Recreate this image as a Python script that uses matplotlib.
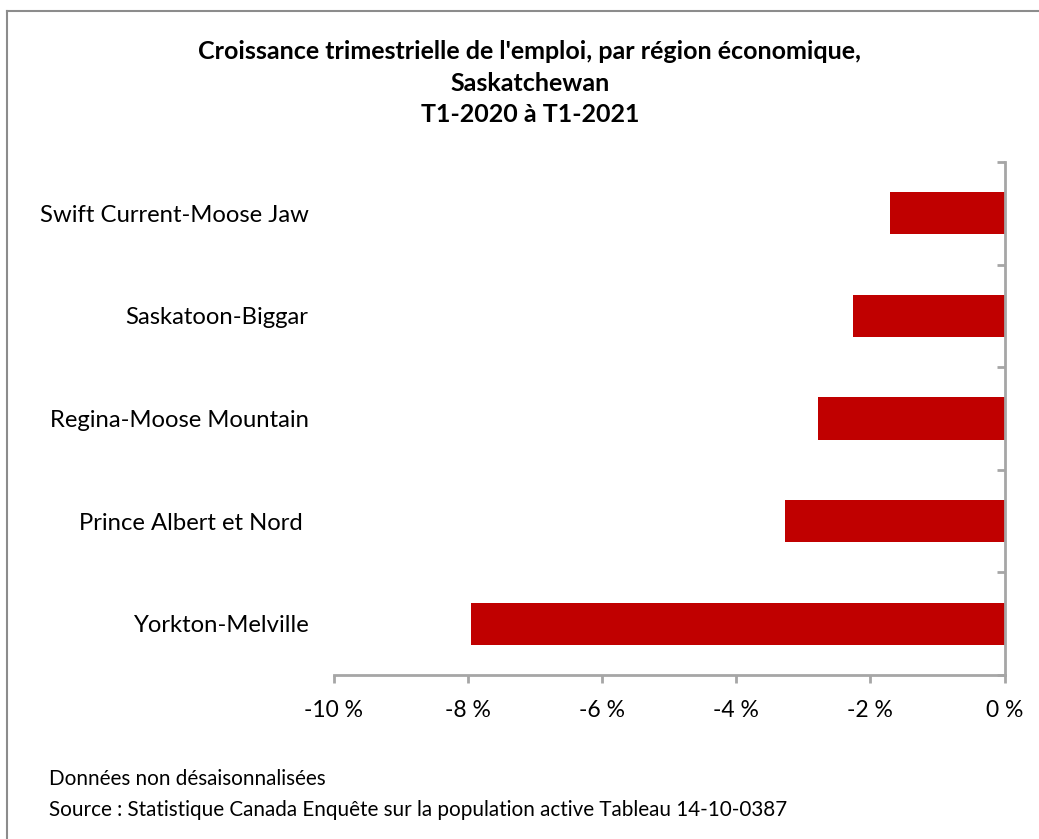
import numpy as np
import matplotlib.pyplot as plt
from matplotlib.lines import Line2D

# donnees
regions = ["Yorkton-Melville", "Prince Albert et Nord ", "Regina-Moose Mountain",
           "Saskatoon-Biggar", "Swift Current-Moose Jaw"]
croissance = [-7.95, -3.27, -2.78, -2.26, -1.71]
xticks = [-10, -8, -6, -4, -2, 0]
xlabels = ["-10 %", "-8 %", "-6 %", "-4 %", "-2 %", "0 %"]

titre = "Croissance trimestrielle de l'emploi, par région économique,\nSaskatchewan\nT1-2020 à T1-2021"
note1 = "Données non désaisonnalisées"
note2 = "Source : Statistique Canada Enquête sur la population active Tableau 14-10-0387"

plt.rcParams['font.family'] = ['Lato', 'DejaVu Sans']
gris = '#A6A6A6'

fig = plt.figure(figsize=(10.39, 8.39), dpi=100)
ax = fig.add_axes([0.321, 0.1955, 0.6458, 0.6114])

y = np.arange(len(regions))
ax.barh(y, croissance, height=0.41, color='#C00000')

ax.set_xlim(-10, 0)
ax.set_ylim(-0.5, len(regions) - 0.5)
ax.set_xticks(xticks)
ax.set_xticklabels(xlabels, fontsize=16.5)

# etiquettes au centre, graduations entre les categories
ax.set_yticks(y)
ax.set_yticklabels(regions, fontsize=17.2)
ax.tick_params(axis='y', which='major', length=0, pad=18)
ax.set_yticks(np.arange(-0.5, len(regions), 1), minor=True)
ax.tick_params(axis='y', which='minor', length=6, width=2, color=gris,
               left=False, right=True, direction='in')
ax.tick_params(axis='x', length=6, width=2, color=gris, pad=12)

for s in ['top', 'left']:
    ax.spines[s].set_visible(False)
ax.spines['right'].set_color(gris)
ax.spines['right'].set_linewidth(2)
ax.spines['bottom'].set_color(gris)
ax.spines['bottom'].set_linewidth(2)

fig.text(0.51, 0.952, titre, ha='center', va='top', fontsize=18,
         fontweight='bold', linespacing=1.45)
fig.text(0.047, 0.072, note1, ha='left', va='center', fontsize=14.9)
fig.text(0.047, 0.035, note2, ha='left', va='center', fontsize=14.9)

# cadre
fig.add_artist(Line2D([0.0072, 0.0072], [0, 0.987], transform=fig.transFigure,
                      color='#8C8C8C', lw=1.5))
fig.add_artist(Line2D([0.0072, 1.0], [0.987, 0.987], transform=fig.transFigure,
                      color='#8C8C8C', lw=1.5))

fig.savefig('out.png', dpi=100)
